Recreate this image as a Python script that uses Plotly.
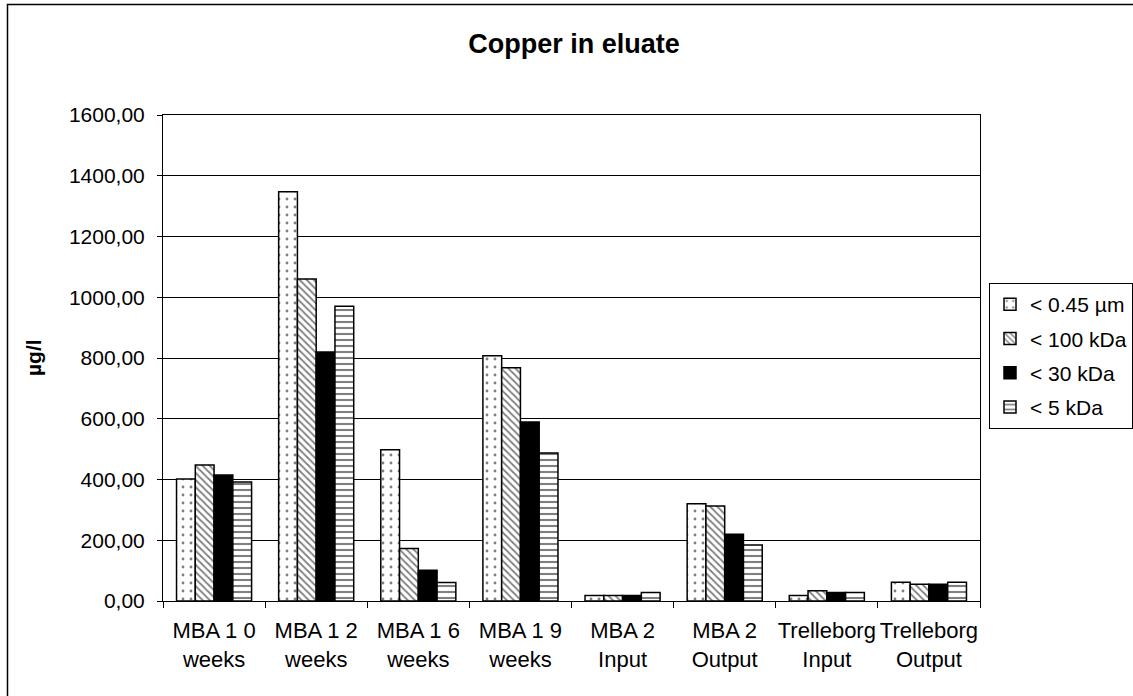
import plotly.graph_objects as go

categories = ["MBA 1 0<br>weeks", "MBA 1 2<br>weeks", "MBA 1 6<br>weeks", "MBA 1 9<br>weeks",
              "MBA 2<br>Input", "MBA 2<br>Output", "Trelleborg<br>Input", "Trelleborg<br>Output"]
series_names = ["< 0.45 µm", "< 100 kDa", "< 30 kDa", "< 5 kDa"]
s_045um = [402, 1347, 498, 807, 18, 320, 18, 62]
s_100kda = [448, 1060, 173, 768, 18, 313, 34, 55]
s_30kda = [415, 820, 101, 589, 18, 220, 28, 55]
s_5kda = [392, 970, 61, 487, 28, 184, 28, 62]
values = [s_045um, s_100kda, s_30kda, s_5kda]
y_ticks = [0, 200, 400, 600, 800, 1000, 1200, 1400, 1600]

FONT = "Liberation Sans, Arial, sans-serif"
patterns = [
    dict(shape=".", fgcolor="black", bgcolor="white", size=8, solidity=0.1),
    dict(shape="\\", fgcolor="black", bgcolor="white", size=5, solidity=0.35),
    dict(shape="", fgcolor="black", bgcolor="black"),
    dict(shape="-", fgcolor="black", bgcolor="white", size=6, solidity=0.35),
]
fills = ["white", "white", "black", "white"]

fig = go.Figure()
for i, (name, vals) in enumerate(zip(series_names, values)):
    fig.add_trace(go.Bar(
        x=categories, y=vals, name=name, legendgroup=name,
        marker=dict(color=fills[i], line=dict(color="black", width=1.5), pattern=patterns[i]),
    ))

fig.update_layout(
    width=1133, height=696,
    margin=dict(l=163, r=153, t=115, b=95, autoexpand=False),
    paper_bgcolor="white", plot_bgcolor="white",
    font=dict(family=FONT, size=21, color="black"),
    separators=", ",
    barmode="group", bargap=0.265, bargroupgap=0,
    title=dict(text="<b>Copper in eluate</b>", x=0.5066, xref="container", xanchor="center",
               y=1 - 44 / 696, yref="container", yanchor="middle",
               font=dict(family=FONT, size=27, color="black")),
    legend=dict(x=(989 - 163) / 817, xanchor="left", y=(601 - 283) / 486, yanchor="top",
                bordercolor="black", borderwidth=1, bgcolor="white",
                font=dict(family=FONT, size=21), tracegroupgap=4,
                traceorder="grouped", itemwidth=30),
    showlegend=True,
)
fig.update_xaxes(
    type="category", showline=True, linecolor="black", linewidth=1, mirror=True,
    ticks="outside", tickson="boundaries", ticklen=6, tickcolor="black",
    showgrid=False, tickfont=dict(family=FONT, size=22), tickangle=0, automargin=False,
    ticklabelstandoff=10,
)
fig.update_yaxes(
    range=[0, 1600], tickvals=y_ticks, tickformat=".2f",
    showline=True, linecolor="black", linewidth=1, mirror=True,
    ticks="outside", ticklen=5, tickcolor="black",
    showgrid=True, gridcolor="black", gridwidth=1, zeroline=False,
    tickfont=dict(family=FONT, size=21), ticklabelstandoff=8, automargin=False,
)
fig.add_annotation(text="<b>µg/l</b>", textangle=-90, xref="paper", yref="paper",
                   x=(33 - 163) / 817, y=(601 - 358) / 486, showarrow=False,
                   xanchor="center", yanchor="middle", font=dict(family=FONT, size=21))
# outer chart border (left and top visible; right/bottom fall outside the image)
fig.add_shape(type="rect", xref="paper", yref="paper",
              x0=(7.5 - 163) / 817, x1=(1200 - 163) / 817,
              y0=(601 - 760) / 486, y1=(601 - 4.5) / 486,
              line=dict(color="black", width=1.5), layer="below")

fig.write_html("out.html")
